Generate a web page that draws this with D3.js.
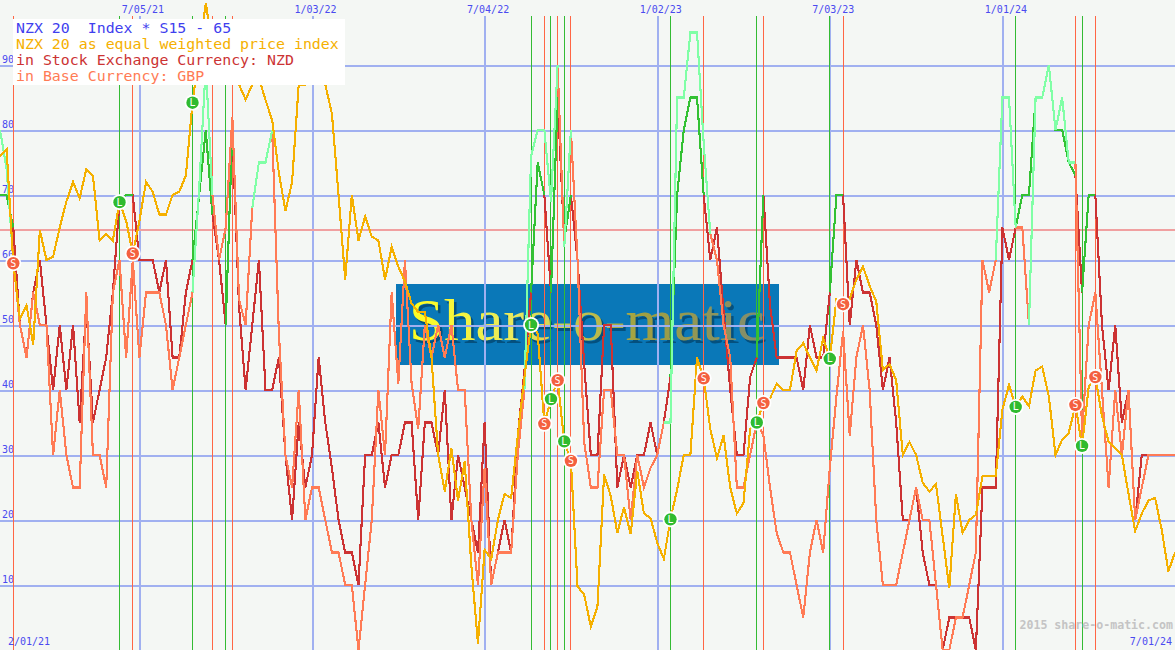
<!DOCTYPE html>
<html>
<head>
<meta charset="utf-8">
<script src="https://cdn.jsdelivr.net/npm/d3@7"></script>
<style>
  html, body { margin: 0; padding: 0; background: #f4f7f4; overflow: hidden; }
  svg { display: block; }
  text { font-family: "DejaVu Sans Mono", monospace; white-space: pre; }
  .mark { fill: none; stroke-width: 2.1; shape-rendering: crispEdges; }
  .grid line { stroke: #a0b0f0; stroke-width: 2; shape-rendering: crispEdges; }
  .grid path { display: none; }
  .grid text { fill: #4a4af0; font-size: 10px; }
</style>
</head>
<body>
<div id="chart"></div>
<script>
const yTicks = [10, 20, 30, 40, 50, 60, 70, 80, 90];
const xTickIndex = [21, 47, 73, 99, 125, 151];
const xTickLabels = ['7/05/21', '1/03/22', '7/04/22', '1/02/23', '7/03/23', '1/01/24'];
const startLabel = '2/01/21';
const endLabel = '7/01/24';
const upperBand = 64.6;

const goldIndex = [
  76, 77, 59.5, 51, 53, 47, 64.6, 60, 60.5, 65,
  69, 72, 69.5, 74, 73, 63, 64, 63, 68.9, 66,
  61, 66, 72, 70.5, 67, 67, 70, 70.5, 73, 84.2,
  92, 99.5, 93, 92, 93, 92, 87, 84.7, 87, 88,
  84.6, 81.5, 73.5, 67.5, 72, 87, 87, 90, 92, 87,
  82.5, 70, 57, 70, 63, 66.7, 63.6, 63, 57, 62,
  59, 56.7, 53.3, 52, 52, 45, 30, 24.4, 31, 23,
  29, 13, 1, 15.4, 14, 20, 24, 23.4, 33, 42,
  50, 48.7, 34.8, 38.6, 41.5, 32.1, 29.1, 9.8, 8.5, 3.6,
  6.7, 27, 23.7, 18, 22, 17.8, 27.5, 21, 20.3, 16.5,
  14, 20.1, 24.7, 30, 30, 45, 41.8, 34, 29.5, 33,
  25, 21, 22.6, 34, 35, 38, 38.7, 41, 40, 40,
  46, 47.2, 45, 43, 48, 44.8, 54, 53.2, 54, 57,
  59, 56, 53.6, 43, 44, 41.5, 30, 32, 30, 25.7,
  24.4, 25.5, 17.5, 9.5, 24, 18, 20, 20.8, 26.7, 26.8,
  26.8, 37, 40.8, 37.4, 39, 37.5, 43, 43.6, 39, 30,
  32.4, 33.4, 37.7, 31.4, 40.5, 42, 36, 32, 31, 30,
  24, 18.3, 21, 23, 23.4, 18.5, 12.1, 15
];

const stockNzd = [
  70, 70, 65, 50, 45, 55, 60, 50, 40, 50,
  40, 50, 35, 53, 35, 40, 45, 55, 69, 70,
  70, 60, 60, 60, 55, 60, 45, 45, 55, 60,
  70, 80, 67, 60, 50, 80, 53, 40, 50, 60,
  40, 40, 45, 30, 20, 35, 25, 30, 45, 35,
  28, 20, 15, 15, 10, 30, 30, 35, 25, 30,
  30, 35, 35, 20, 35, 35, 30, 40, 20, 30,
  25, 20, 15, 35, 10, 15, 20, 15, 33, 43,
  55, 75, 70, 55, 85, 63, 70, 60, 44, 30,
  30, 50, 50, 25, 30, 25, 30, 30, 35, 30,
  35, 42, 70, 80, 85, 85, 70, 60, 65, 52,
  40, 30, 30, 42, 45, 70, 53, 45, 45, 45,
  45, 40, 50, 45, 45, 55, 70, 70, 50, 60,
  55, 55, 50, 40, 45, 35, 20, 20, 25, 15,
  10, 10, 0, 5, 5, 5, 5, 0, 25, 25,
  25, 65, 60, 65, 70, 70, 85, 85, 90, 80,
  80, 75, 73, 55, 70, 70, 50, 40, 50, 35,
  40, 20, 30, 30, 30, 30, 30, 30
];

const baseGbp = [
  80, 74, 60, 50, 45, 55, 50, 50, 30, 40,
  30, 25, 25, 55, 30, 30, 25, 55, 60, 45,
  60, 45, 55, 55, 55, 50, 40, 45, 50, 55,
  71, 90, 70, 60, 65, 82, 54, 50, 68, 75,
  75, 80, 49, 30, 25, 40, 20, 25, 25, 20,
  15, 15, 10, 10, 0, 10, 20, 40, 30, 55,
  41, 60, 41, 34, 50, 45, 50, 45, 50, 40,
  40, 20, 10, 28, 10, 15, 15, 15, 30, 40,
  76, 80, 80, 69, 90, 62, 80, 60, 32, 25,
  25, 40, 40, 30, 30, 20, 30, 25, 28, 30,
  35, 35, 85, 85, 95, 95, 78, 64, 60, 50,
  45, 25, 25, 30, 35, 33, 25, 18, 15, 15,
  10, 5, 15, 20, 15, 28, 39, 49, 33, 45,
  50, 40, 20, 10, 10, 10, 15, 20, 25, 20,
  20, 10, 0, 0, 5, 5, 10, 15, 60, 55,
  60, 85, 85, 65, 65, 50, 85, 85, 90, 80,
  85, 75, 75, 33, 50, 55, 40, 25, 40, 30,
  40, 20, 25, 30, 30, 30, 30, 30
];

// index of each buy (L) and the sell (S) that closes it, NZD series
const longEntries = [18, 29, 34, 80, 83, 85, 101, 114, 125, 153, 163];
const longExits = [20, 32, 35, 82, 84, 86, 106, 115, 127, 162, 165];
// sell at the very start, position already open when the chart begins
const openExit = 2;

// the GBP series goes long on its own dates
const baseLongFrom = [0, 29, 38, 79, 85, 100, 150, 155];
const baseLongTo = [2, 32, 41, 84, 86, 107, 153, 162];

const legendLines = [
  ['NZX 20  Index * S15 - 65', '#3f3fee'],
  ['NZX 20 as equal weighted price index', '#f5b000'],
  ['in Stock Exchange Currency: NZD', '#cc3333'],
  ['in Base Currency: GBP', '#ff7b55'],
];

const width = 1175;
const height = 650;
const gridTop = 16;

const x = d3.scaleLinear().domain([0, 177]).range([0, width]);
const y = d3.scaleLinear().domain([0, 100]).range([height, 0]);

const svg = d3.select('#chart').append('svg')
  .attr('width', width)
  .attr('height', height);

svg.append('rect')
  .attr('width', width)
  .attr('height', height)
  .attr('fill', '#f4f7f4');

// logo sits behind the grid
const defs = svg.append('defs');
const logoFill = defs.append('linearGradient').attr('id', 'logoFill');
logoFill.append('stop').attr('offset', '0%').attr('stop-color', '#ffff20');
logoFill.append('stop').attr('offset', '30%').attr('stop-color', '#e8e860');
logoFill.append('stop').attr('offset', '65%').attr('stop-color', '#a0a040');
logoFill.append('stop').attr('offset', '100%').attr('stop-color', '#808c70');

const logo = svg.append('g');
logo.append('rect')
  .attr('x', 396).attr('y', 284)
  .attr('width', 383).attr('height', 81)
  .attr('fill', '#0a78b8');
logo.selectAll('text')
  .data([
    { dx: 2.5, dy: 2.5, fill: '#04507e' },
    { dx: 0, dy: 0, fill: 'url(#logoFill)' },
  ])
  .join('text')
  .attr('x', d => 409 + d.dx)
  .attr('y', d => 340 + d.dy)
  .attr('textLength', 356)
  .attr('lengthAdjust', 'spacingAndGlyphs')
  .attr('fill', d => d.fill)
  .style('font-family', '"Liberation Serif", serif')
  .style('font-size', '60px')
  .text('Share-o-matic');

// grid
svg.append('g')
  .attr('class', 'grid')
  .call(d3.axisRight(y).tickValues(yTicks).tickSize(width).tickFormat(d3.format('d')))
  .call(g => g.selectAll('text').attr('x', 2).attr('dy', -3));

svg.append('g')
  .attr('class', 'grid')
  .attr('transform', `translate(0,${gridTop})`)
  .call(d3.axisBottom(x)
    .tickValues(xTickIndex)
    .tickSize(height - gridTop)
    .tickFormat((d, i) => xTickLabels[i]))
  .call(g => g.selectAll('text').attr('y', -3).attr('dy', 0).attr('dx', 3));

svg.append('line')
  .attr('x1', 0).attr('x2', width)
  .attr('y1', y(upperBand)).attr('y2', y(upperBand))
  .attr('stroke', '#f0a0a0')
  .attr('stroke-width', 2)
  .style('shape-rendering', 'crispEdges');

// signal lines
const signals = [
  ...longEntries.map(i => ({ i, type: 'L' })),
  ...longExits.map(i => ({ i, type: 'S' })),
  { i: openExit, type: 'S' },
];
const signalColor = { L: '#33bb33', S: '#ff6644' };

svg.append('g').selectAll('line')
  .data(signals)
  .join('line')
  .attr('x1', d => x(d.i))
  .attr('x2', d => x(d.i))
  .attr('y1', gridTop)
  .attr('y2', height)
  .attr('stroke', d => signalColor[d.type])
  .attr('stroke-width', 1)
  .style('shape-rendering', 'crispEdges');

const line = d3.line()
  .x(d => x(d.i))
  .y(d => y(d.v));

const toPoints = (values, from = 0, to = values.length - 1) =>
  values.map((v, i) => ({ i, v })).filter(d => d.i >= from && d.i <= to);

const drawSeries = (values, color, longColor, fromList, toList) => {
  svg.append('path')
    .attr('class', 'mark')
    .attr('d', line(toPoints(values)))
    .attr('stroke', color);
  fromList.forEach((from, k) => {
    svg.append('path')
      .attr('class', 'mark')
      .attr('d', line(toPoints(values, from, toList[k])))
      .attr('stroke', longColor);
  });
};

drawSeries(stockNzd, '#cc3333', '#33c133', [0, ...longEntries], [openExit, ...longExits]);
drawSeries(baseGbp, '#ff7b55', '#80ffa6', baseLongFrom, baseLongTo);

svg.append('path')
  .attr('class', 'mark')
  .attr('d', line(toPoints(goldIndex)))
  .attr('stroke', '#f5b000');

// signal markers ride on the price index
const marker = svg.append('g').selectAll('g')
  .data(signals)
  .join('g')
  .attr('transform', d => `translate(${x(d.i)},${y(goldIndex[d.i])})`);

marker.append('circle')
  .attr('r', 8)
  .attr('fill', '#ffffff');
marker.append('circle')
  .attr('r', 6.2)
  .attr('fill', d => (d.type === 'L' ? '#2fbb2f' : '#f4603f'));
marker.append('text')
  .attr('text-anchor', 'middle')
  .attr('y', 3.5)
  .attr('fill', '#ffffff')
  .style('font-size', '10px')
  .text(d => d.type);

// legend box covers whatever runs under it
svg.append('rect')
  .attr('x', 13).attr('y', 19)
  .attr('width', 332).attr('height', 66)
  .attr('fill', '#ffffff');

svg.append('g').selectAll('text')
  .data(legendLines)
  .join('text')
  .attr('x', 16)
  .attr('y', (d, i) => 33 + (i * 16))
  .attr('fill', d => d[1])
  .style('font-size', '14.9px')
  .text(d => d[0]);

svg.append('text')
  .attr('x', 8).attr('y', 645)
  .attr('fill', '#4a4af0')
  .style('font-size', '10px')
  .text(startLabel);

svg.append('text')
  .attr('x', 1172).attr('y', 645)
  .attr('text-anchor', 'end')
  .attr('fill', '#4a4af0')
  .style('font-size', '10px')
  .text(endLabel);

svg.append('text')
  .attr('x', 1173).attr('y', 629)
  .attr('text-anchor', 'end')
  .attr('fill', '#c4c4c4')
  .style('font-size', '11.6px')
  .style('font-weight', 'bold')
  .text('2015 share-o-matic.com');
</script>
</body>
</html>
